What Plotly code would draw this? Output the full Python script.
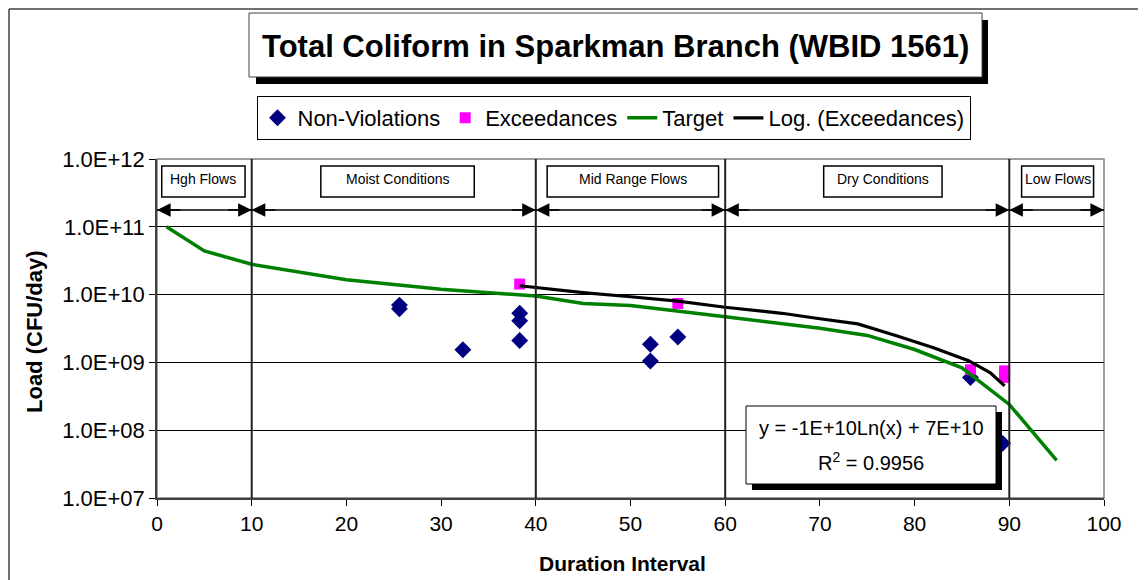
import plotly.graph_objects as go

# ---------------- data ----------------
NV_X = [25.6, 25.6, 32.3, 38.3, 38.3, 38.3, 52.1, 52.1, 55.0, 85.9, 89.3]
NV_Y = [7.0e9, 6.2e9, 1.54e9, 5.3e9, 4.1e9, 2.1e9, 1.85e9, 1.05e9, 2.37e9, 6.0e8, 6.4e7]

EX_X = [38.3, 55.0, 85.9, 89.5, 89.5]
EX_Y = [1.43e10, 7.4e9, 7.8e8, 7.5e8, 6.0e8]

TG_X = [1, 5, 10, 20, 30, 40, 45, 50, 60, 70, 75, 80, 85, 90, 95]
TG_Y = [1.0e11, 4.4e10, 2.8e10, 1.65e10, 1.2e10, 9.5e9, 7.4e9, 6.9e9, 4.7e9,
        3.2e9, 2.5e9, 1.55e9, 8.3e8, 2.4e8, 3.6e7]

TR_X = [38.3, 45, 50, 55, 60, 66, 70, 74, 78, 82, 85.7, 88, 89.5]
TR_Y = [1.35e10, 1.07e10, 9.3e9, 8.0e9, 6.5e9, 5.3e9, 4.4e9, 3.7e9, 2.5e9,
        1.65e9, 1.06e9, 7.0e8, 4.5e8]

Y_TICKS = [1e7, 1e8, 1e9, 1e10, 1e11, 1e12]
Y_TICK_TEXT = ["1.0E+07", "1.0E+08", "1.0E+09", "1.0E+10", "1.0E+11", "1.0E+12"]
X_TICKS = [0, 10, 20, 30, 40, 50, 60, 70, 80, 90, 100]

ZONE_BOUNDS = [0, 10, 40, 60, 90, 100]
ZONE_NAMES = ["Hgh Flows", "Moist Conditions", "Mid Range Flows", "Dry Conditions", "Low Flows"]

TITLE = "Total Coliform in Sparkman Branch (WBID 1561)"
EQUATION = "y = -1E+10Ln(x) + 7E+10"
R2_TEXT = "R<sup>2</sup> = 0.9956"

# ---------------- layout helpers ----------------
W, H = 1146, 580
OFF = 8                      # page body margin of the html page
L, R, T, B = 157, 1104, 159, 498   # plot area on screen
PW, PH = R - L, B - T


def px(xp):
    return (xp - L) / PW


def py(yp):
    return (B - yp) / PH


FONT = "Arial, Liberation Sans, sans-serif"


def note(x, y, text, size, xref="paper", **kw):
    d = dict(x=x, y=y, xref=xref, yref="paper", text=text, showarrow=False,
             xanchor="center", yanchor="middle",
             font=dict(family=FONT, size=size, color="black"))
    d.update(kw)
    return d


fig = go.Figure()
fig.add_trace(go.Scatter(x=NV_X, y=NV_Y, mode="markers", name="Non-Violations",
                         marker=dict(symbol="diamond", size=13, color="#000080")))
fig.add_trace(go.Scatter(x=EX_X, y=EX_Y, mode="markers", name="Exceedances",
                         marker=dict(symbol="square", size=11, color="#FF00FF")))
fig.add_trace(go.Scatter(x=TG_X, y=TG_Y, mode="lines", name="Target",
                         line=dict(color="#008000", width=3.5)))
fig.add_trace(go.Scatter(x=TR_X, y=TR_Y, mode="lines", name="Log. (Exceedances)",
                         line=dict(color="#000000", width=3.2)))

shapes = []
annotations = []

# outer chart border (top and left visible)
shapes.append(dict(type="line", xref="paper", yref="paper", x0=px(9), x1=px(1160),
                   y0=py(9), y1=py(9), line=dict(color="#404040", width=1.5)))
shapes.append(dict(type="line", xref="paper", yref="paper", x0=px(9), x1=px(9),
                   y0=py(9), y1=py(600), line=dict(color="#404040", width=1.5)))

# plot area border
shapes.append(dict(type="rect", xref="paper", yref="paper", x0=0, x1=1, y0=0, y1=1,
                   line=dict(color="#808080", width=1.5), layer="below"))

# zone dividers
for b in ZONE_BOUNDS[1:-1]:
    shapes.append(dict(type="line", xref="x", yref="paper", x0=b, x1=b, y0=0, y1=1,
                       line=dict(color="#202020", width=2)))

# zone label boxes
BOX_EXT = [(0.5, 9.3), (17.3, 33.5), (41.2, 59.3), (70.4, 82.9), (91.3, 98.9)]
for name, (a, b) in zip(ZONE_NAMES, BOX_EXT):
    shapes.append(dict(type="rect", xref="x", yref="paper", x0=a, x1=b,
                       y0=py(197), y1=py(166), fillcolor="white",
                       line=dict(color="black", width=1.5)))
    annotations.append(note((a + b) / 2, py(179), name, 14, xref="x"))

# zone arrows: shaft as a line, heads as annotation arrows
ARROW_Y = py(210)
for a, b in zip(ZONE_BOUNDS[:-1], ZONE_BOUNDS[1:]):
    shapes.append(dict(type="line", xref="x", yref="paper", x0=a, x1=b,
                       y0=ARROW_Y, y1=ARROW_Y, line=dict(color="black", width=1.6)))
    for tip, off in ((a, 25), (b, -25)):
        annotations.append(dict(x=tip, y=ARROW_Y, xref="x", yref="paper",
                                ax=off, ay=0, axref="pixel", ayref="pixel",
                                text="", showarrow=True, arrowhead=2,
                                arrowsize=1.7, arrowwidth=1.6, arrowcolor="black",
                                standoff=0, startstandoff=0))

# title box with shadow
shapes.append(dict(type="rect", xref="paper", yref="paper", x0=px(256), x1=px(988),
                   y0=py(84), y1=py(20), fillcolor="black", line=dict(width=0)))
shapes.append(dict(type="rect", xref="paper", yref="paper", x0=px(249), x1=px(982),
                   y0=py(77), y1=py(13), fillcolor="white",
                   line=dict(color="#404040", width=1)))
annotations.append(note(px(615.5), py(46), "<b>" + TITLE + "</b>", 31))

# equation box with shadow
shapes.append(dict(type="rect", xref="paper", yref="paper", x0=px(752), x1=px(1002),
                   y0=py(490), y1=py(412), fillcolor="black", line=dict(width=0)))
shapes.append(dict(type="rect", xref="paper", yref="paper", x0=px(746), x1=px(996),
                   y0=py(484), y1=py(406), fillcolor="white",
                   line=dict(color="black", width=1)))
annotations.append(note(px(871), py(428), EQUATION, 20))
annotations.append(note(px(871), py(461), R2_TEXT, 20))

# axis titles
annotations.append(note(px(34), py(331), "<b>Load (CFU/day)</b>", 22, textangle=-90))
annotations.append(note(px(622), py(563), "<b>Duration Interval</b>", 21))

fig.update_layout(
    width=W, height=H,
    margin=dict(l=L - OFF, r=W - (R - OFF), t=T - OFF, b=H - (B - OFF), pad=0,
                autoexpand=False),
    paper_bgcolor="white", plot_bgcolor="white",
    font=dict(family=FONT, color="black"),
    showlegend=True,
    legend=dict(orientation="h", x=px(613.5), xanchor="center", y=py(96), yanchor="top",
                bordercolor="black", borderwidth=1, bgcolor="white",
                font=dict(family=FONT, size=22, color="black"),
                itemwidth=30, tracegroupgap=0),
    shapes=shapes,
    annotations=annotations,
    xaxis=dict(range=[0, 100], tickvals=X_TICKS, ticks="outside", ticklen=6,
               tickcolor="black", showline=True, linecolor="#404040", linewidth=1.5,
               showgrid=False, zeroline=False,
               tickfont=dict(family=FONT, size=21, color="black")),
    yaxis=dict(type="log", range=[7, 12], tickvals=Y_TICKS, ticktext=Y_TICK_TEXT,
               ticks="outside", ticklen=6, tickcolor="black", showline=True,
               linecolor="#404040", linewidth=1.5, showgrid=True, gridcolor="black",
               gridwidth=1, zeroline=False,
               tickfont=dict(family=FONT, size=22, color="black")),
)

fig.write_html("out.html")
